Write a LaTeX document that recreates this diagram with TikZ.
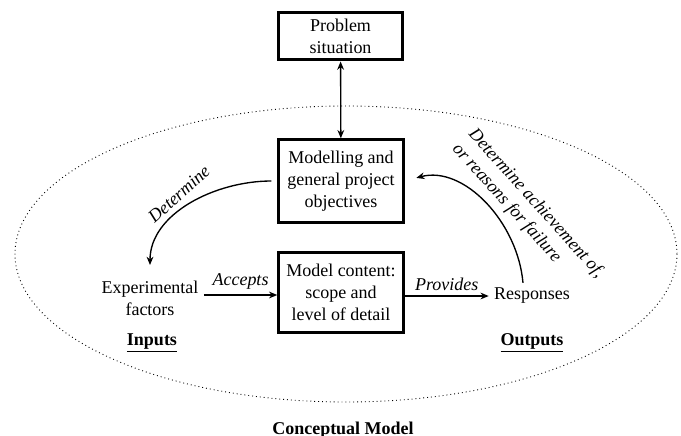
\documentclass[tikz,border=0pt]{standalone}
\usepackage{fontspec}
\setmainfont{Liberation Serif}
\usetikzlibrary{arrows.meta}
\begin{document}
\begin{tikzpicture}[>={Stealth[length=5.5pt,width=4.5pt]}, x=0.667pt, y=-0.667pt,
  bigbox/.style={draw, line width=2pt, align=center, minimum width=83pt, font=\fontsize{12}{14.5}\selectfont},
  txt/.style={align=center, font=\fontsize{12}{14.5}\selectfont},
  head/.style={font=\fontsize{12}{14.5}\selectfont\bfseries},
  lbl/.style={font=\fontsize{12}{14.5}\selectfont\itshape},
  conn/.style={line width=0.9pt}]
\useasboundingbox (0,0) rectangle (681,436);
\draw[dotted, line width=0.6pt] (346,254) ellipse [x radius=331, y radius=148];
\node[bigbox, minimum height=32pt] (prob) at (340.5,36) {Problem\\situation};
\node[bigbox, minimum height=55pt] (obj) at (341,181) {Modelling and\\general project\\objectives};
\node[bigbox, minimum height=54pt] (content) at (341,292.5) {Model content:\\scope and\\level of detail};
\node[txt] (expfac) at (150,298) {Experimental\\factors};
\node[txt] (resp) at (532,296) {Responses};
\node[head] (inputs) at (152,343) {\underline{Inputs}};
\node[head] (outputs) at (532,343) {\underline{Outputs}};
\node[head] (cmlabel) at (343,430) {Conceptual Model};
\draw[<->, conn] (prob) -- (obj);
\draw[->, conn, shorten <=4pt, shorten >=7pt] (obj.west) to[out=180, in=90] (expfac.north);
\node[lbl, rotate=42] (detlbl) at (179,194) {Determine};
\draw[->, conn, shorten >=8pt] ([xshift=-6pt]resp.north) to[out=95, in=15] (obj.east);
\node[lbl, rotate=-48, align=left] (fblbl) at (528,211) {Determine achievement of,\\or reasons for failure};
\draw[->, conn] ([yshift=2pt]expfac.east) -- ([yshift=2pt]expfac.east -| content.west) node[midway, above, lbl] {Accepts};
\draw[->, conn] (content.east |- resp.west) -- (resp.west) node[midway, above, lbl] {Provides};
\end{tikzpicture}
\end{document}
